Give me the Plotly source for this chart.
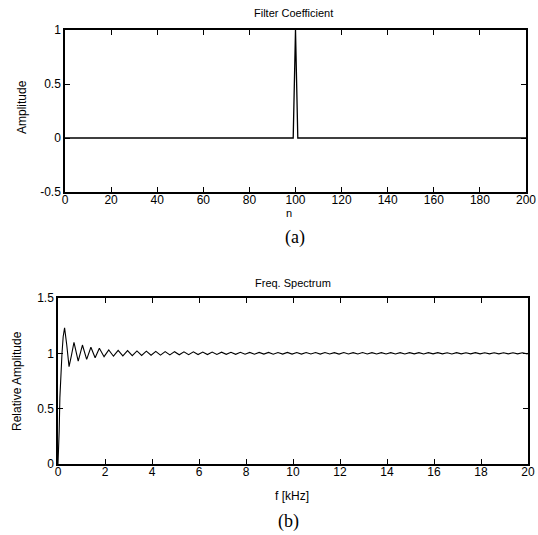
import plotly.graph_objects as go

# ---- (a) filter coefficients, n = 0..200 ----
n_taps = list(range(0, 201))
coef_spike_n = [98, 99, 100, 101, 102]
coef_spike_v = [0.0, 0.0, 1.0, 0.0, 0.0]
coef = [0.0] * len(n_taps)
for k, v in zip(coef_spike_n, coef_spike_v):
    coef[k] = v

# ---- (b) frequency response (extrema of the ripple, kHz) ----
f_head = [0.0, 0.02, 0.05, 0.08, 0.12, 0.17, 0.22, 0.28, 0.37, 0.47, 0.57,
          0.68, 0.86, 1.04, 1.22, 1.40, 1.58, 1.76, 1.96]
a_head = [0.0, 0.08, 0.30, 0.60, 0.85, 1.00, 1.15, 1.23, 1.08, 0.88, 0.98,
          1.10, 0.93, 1.075, 0.945, 1.055, 0.96, 1.045, 0.97]

f_tail = [2.16, 2.36, 2.56, 2.76, 2.96, 3.16, 3.36, 3.56, 3.76, 3.96,
          4.16, 4.36, 4.56, 4.76, 4.96, 5.16, 5.36, 5.56, 5.76, 5.96,
          6.16, 6.36, 6.56, 6.76, 6.96, 7.16, 7.36, 7.56, 7.76, 7.96,
          8.16, 8.36, 8.56, 8.76, 8.96, 9.16, 9.36, 9.56, 9.76, 9.96,
          10.16, 10.36, 10.56, 10.76, 10.96, 11.16, 11.36, 11.56, 11.76, 11.96,
          12.16, 12.36, 12.56, 12.76, 12.96, 13.16, 13.36, 13.56, 13.76, 13.96,
          14.16, 14.36, 14.56, 14.76, 14.96, 15.16, 15.36, 15.56, 15.76, 15.96,
          16.16, 16.36, 16.56, 16.76, 16.96, 17.16, 17.36, 17.56, 17.76, 17.96,
          18.16, 18.36, 18.56, 18.76, 18.96, 19.16, 19.36, 19.56, 19.76, 19.96,
          20.0]
a_tail = [1.030, 0.974, 1.027, 0.977, 1.024, 0.979, 1.022, 0.981, 1.020, 0.983,
          1.018, 0.984, 1.016, 0.986, 1.015, 0.987, 1.014, 0.988, 1.013, 0.989,
          1.012, 0.989, 1.011, 0.990, 1.010, 0.991, 1.010, 0.991, 1.009, 0.992,
          1.008, 0.992, 1.008, 0.993, 1.008, 0.992, 1.007, 0.993, 1.008, 0.993,
          1.007, 0.993, 1.007, 0.994, 1.007, 0.993, 1.007, 0.994, 1.006, 0.993,
          1.007, 0.994, 1.006, 0.994, 1.007, 0.994, 1.006, 0.994, 1.006, 0.994,
          1.006, 0.994, 1.006, 0.994, 1.006, 0.995, 1.006, 0.994, 1.006, 0.995,
          1.006, 0.995, 1.005, 0.994, 1.006, 0.995, 1.005, 0.995, 1.006, 0.995,
          1.005, 0.995, 1.005, 0.995, 1.005, 0.995, 1.005, 0.995, 1.005, 0.995,
          1.0]
freq = f_head + f_tail
amp = a_head + a_tail

x_ticks_a = [0, 20, 40, 60, 80, 100, 120, 140, 160, 180, 200]
y_ticks_a = [-0.5, 0, 0.5, 1]
y_text_a = ["-0.5", "0", "0.5", "1"]
x_ticks_b = [0, 2, 4, 6, 8, 10, 12, 14, 16, 18, 20]
y_ticks_b = [0, 0.5, 1, 1.5]
y_text_b = ["0", "0.5", "1", "1.5"]

W, H = 538, 535
FONT = "Liberation Sans, Arial, sans-serif"
SERIF = "Liberation Serif, DejaVu Serif, serif"

fig = go.Figure()
fig.add_trace(go.Scatter(x=n_taps, y=coef, mode="lines",
                         line=dict(color="black", width=1.3),
                         xaxis="x", yaxis="y", showlegend=False))
fig.add_trace(go.Scatter(x=freq, y=amp, mode="lines",
                         line=dict(color="black", width=1.1),
                         xaxis="x2", yaxis="y2", showlegend=False))

axis_common = dict(showline=True, linecolor="black", linewidth=1.5,
                   mirror="ticks", ticks="inside", ticklen=5, tickwidth=1.2,
                   tickcolor="black", showgrid=False, zeroline=False,
                   automargin=False,
                   tickfont=dict(family=FONT, size=12, color="black"))

fig.update_layout(
    width=W, height=H,
    margin=dict(l=0, r=0, t=0, b=0),
    paper_bgcolor="white", plot_bgcolor="white",
    xaxis=dict(domain=[65 / W, 526 / W], range=[0, 200], ticklabelstandoff=-4,
               tickvals=x_ticks_a, anchor="y", **axis_common),
    yaxis=dict(domain=[1 - 192 / H, 1 - 30 / H], range=[-0.5, 1],
               tickvals=y_ticks_a, ticktext=y_text_a, anchor="x", **axis_common),
    xaxis2=dict(domain=[58 / W, 528 / W], range=[0, 20], ticklabelstandoff=-4,
                tickvals=x_ticks_b, anchor="y2", **axis_common),
    yaxis2=dict(domain=[1 - 464 / H, 1 - 298 / H], range=[0, 1.5],
                tickvals=y_ticks_b, ticktext=y_text_b, anchor="x2", **axis_common),
)

def label(text, x, y, size=11, family=FONT, angle=0):
    fig.add_annotation(text=text, x=x / W, y=1 - y / H, xref="paper", yref="paper",
                       showarrow=False, xanchor="center", yanchor="middle",
                       textangle=angle,
                       font=dict(family=family, size=size, color="black"))

label("Filter Coefficient", 293, 13)
label("Amplitude", 22, 107, size=12, angle=-90)
label("n", 289, 213, size=11)
label("(a)", 295, 237, size=18, family=SERIF)
label("Freq. Spectrum", 293, 283)
label("Relative Amplitude", 17, 381, size=12, angle=-90)
label("f [kHz]", 292, 496, size=12)
label("(b)", 288, 521, size=18, family=SERIF)

fig.write_html("out.html")
